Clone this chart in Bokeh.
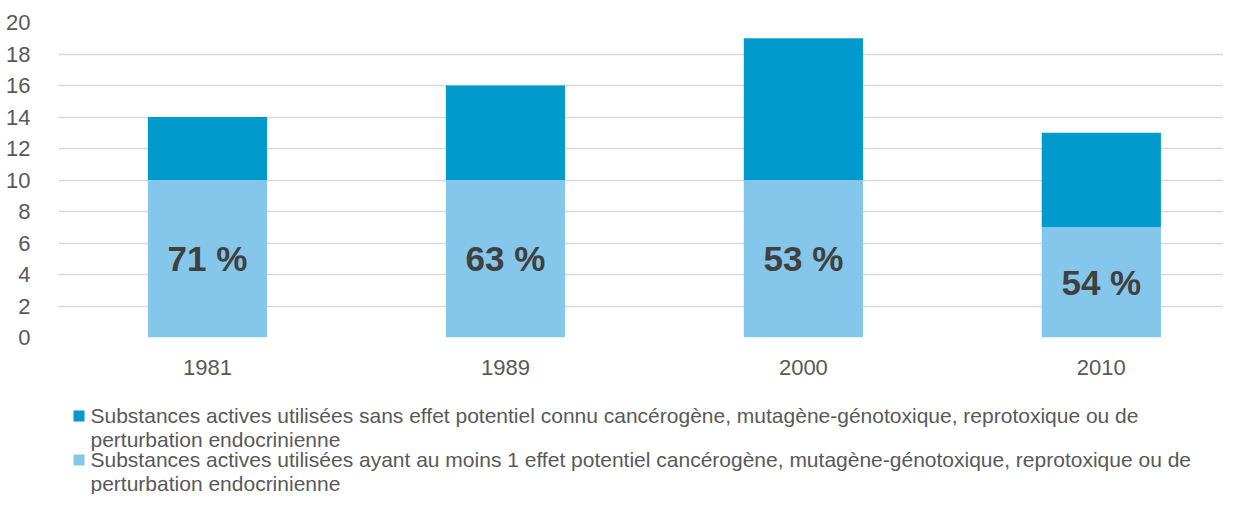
from bokeh.plotting import figure
from bokeh.models import Range1d, FixedTicker, ColumnDataSource
from bokeh.layouts import column
from bokeh.core.properties import value
from bokeh.embed import file_html
from bokeh.resources import INLINE

# ---- data ----
years = ["1981", "1989", "2000", "2010"]
with_effect = [10, 10, 10, 7]          # light blue (bottom)
without_effect = [4, 6, 9, 6]          # dark blue (top)
pct_labels = ["71 %", "63 %", "53 %", "54 %"]
y_ticks = [0, 2, 4, 6, 8, 10, 12, 14, 16, 18, 20]
legend_without = ["Substances actives utilisées sans effet potentiel connu cancérogène, mutagène-génotoxique, reprotoxique ou de",
                  "perturbation endocrinienne"]
legend_with = ["Substances actives utilisées ayant au moins 1 effet potentiel cancérogène, mutagène-génotoxique, reprotoxique ou de",
               "perturbation endocrinienne"]

DARK = "#009BCC"
LIGHT = "#85C6EB"
GRID = "#D9D9D9"
TXT = "#595959"
FONT = "Liberation Sans"

W = 1223
LEFT = 58
H_MAIN = 393
H_LEG = 101

xs = list(range(len(years)))
totals = [a + b for a, b in zip(with_effect, without_effect)]
src = ColumnDataSource(dict(x=xs, low=with_effect, top=totals,
                            mid=[v / 2 for v in with_effect], lab=pct_labels))

p = figure(width=W, height=H_MAIN, output_backend="svg", toolbar_location=None,
           x_range=Range1d(-0.5, 3.41), y_range=Range1d(0, 20),
           min_border_left=LEFT, min_border_right=0, min_border_top=22, min_border_bottom=56)
p.outline_line_color = None
p.background_fill_color = "white"
p.border_fill_color = "white"

p.vbar(x="x", bottom=0, top="low", width=0.4, source=src, fill_color=LIGHT, line_color=None)
p.vbar(x="x", bottom="low", top="top", width=0.4, source=src, fill_color=DARK, line_color=None)
p.text(x="x", y="mid", text="lab", source=src, text_font=value(FONT), text_font_style="bold",
       text_font_size="35px", text_color="#404040", text_align="center", text_baseline="middle")

p.xgrid.visible = False
p.ygrid.grid_line_color = GRID
p.ygrid.grid_line_width = 1.3
p.yaxis.ticker = FixedTicker(ticks=y_ticks)
p.xaxis.ticker = FixedTicker(ticks=xs)
p.xaxis.major_label_overrides = {i: y for i, y in zip(xs, years)}
for ax in (p.xaxis, p.yaxis):
    ax.axis_line_color = None
    ax.major_tick_line_color = None
    ax.minor_tick_line_color = None
    ax.major_label_text_font = FONT
    ax.major_label_text_font_size = "22px"
    ax.major_label_text_color = TXT
p.yaxis.major_label_standoff = 22
p.xaxis.major_label_standoff = 16

# ---- legend figure (data x == canvas px, data y == px from its top) ----
lg = figure(width=W, height=H_LEG, output_backend="svg", toolbar_location=None,
            x_range=Range1d(LEFT, W), y_range=Range1d(H_LEG, 0),
            min_border_left=LEFT, min_border_right=0, min_border_top=0, min_border_bottom=0,
            x_axis_location=None, y_axis_location=None)
lg.outline_line_color = None
lg.xgrid.visible = False
lg.ygrid.visible = False
lg.background_fill_color = "white"
lg.border_fill_color = "white"

sq_y = [22.5, 66.5]
line_y = [22, 45.5, 66, 89.5]
lg.rect(x=[78.5, 78.5], y=sq_y, width=11, height=11,
        fill_color=[DARK, LIGHT], line_color=None)
lg.text(x=[90, 90, 90, 90], y=line_y,
        text=legend_without + legend_with, text_font=value(FONT), text_font_size="21px",
        text_color=TXT, text_align="left", text_baseline="alphabetic")

layout = column(p, lg, spacing=0)
open("out.html", "w").write(file_html(layout, INLINE))
